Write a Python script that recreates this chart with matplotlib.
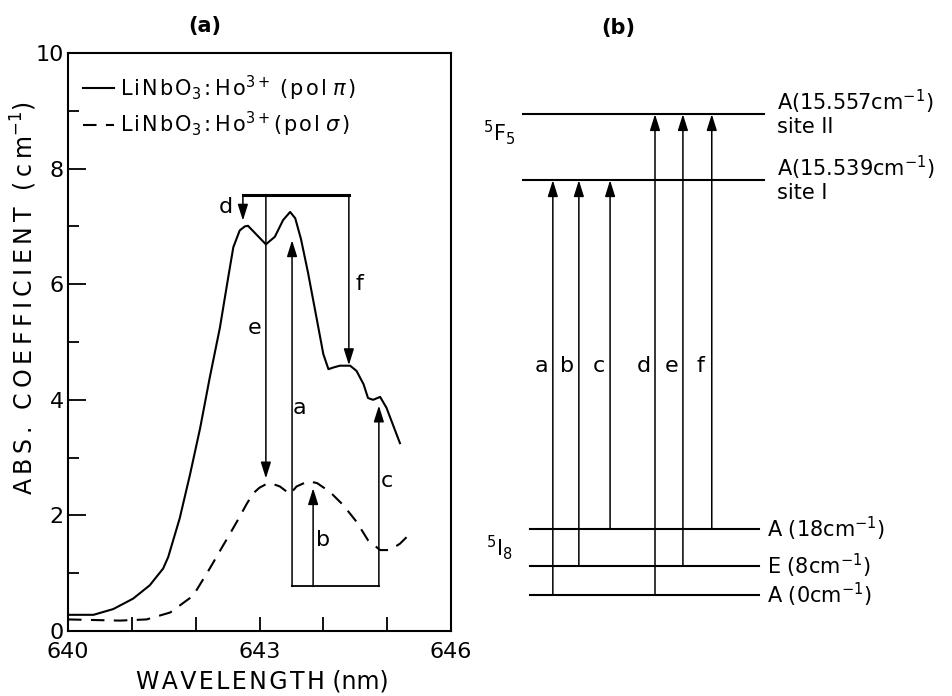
import matplotlib.pyplot as plt

# absorption of LiNbO3:Ho3+ around the 5I8 -> 5F5 band
wl_pi = [640.0, 640.4, 640.71, 641.02, 641.28, 641.49, 641.57, 641.75, 641.91,
         642.07, 642.22, 642.38, 642.51, 642.59, 642.69, 642.77, 642.82, 642.96,
         643.10, 643.24, 643.37, 643.48, 643.56, 643.65, 643.76, 643.90, 644.0,
         644.08, 644.16, 644.26, 644.42, 644.52, 644.63, 644.70, 644.78, 644.89,
         644.99, 645.20]
abs_pi = [0.28, 0.28, 0.38, 0.56, 0.79, 1.08, 1.28, 1.95, 2.70,
          3.51, 4.38, 5.25, 6.12, 6.64, 6.93, 7.0, 7.01, 6.85,
          6.69, 6.82, 7.11, 7.25, 7.14, 6.78, 6.2, 5.38, 4.79,
          4.53, 4.56, 4.59, 4.59, 4.50, 4.27, 4.03, 4.0, 4.05,
          3.86, 3.25]

wl_sig = [640.0, 640.81, 641.23, 641.6, 641.96, 642.22, 642.43, 642.51, 642.65,
          642.80, 642.90, 643.0, 643.12, 643.22, 643.32, 643.44, 643.48, 643.58,
          643.76, 643.90, 644.1, 644.31, 644.52, 644.7, 644.89, 645.04, 645.2,
          645.31]
abs_sig = [0.2, 0.18, 0.2, 0.32, 0.61, 1.08, 1.48, 1.63, 1.9,
           2.2, 2.38, 2.48, 2.55, 2.54, 2.5, 2.4, 2.37, 2.5,
           2.59, 2.56, 2.41, 2.18, 1.89, 1.57, 1.40, 1.40, 1.51,
           1.63]

# transitions marked on the spectrum
trans_names = ['a', 'b', 'c', 'd', 'e', 'f']
trans_wl = [643.51, 643.84, 644.87, 642.74, 643.10, 644.40]
trans_tip = [6.76, 2.47, 3.9, 7.1, 2.64, 4.6]
site1_base = 0.77     # bracket joining a, b, c
site2_base = 7.55     # bracket joining d, e, f

# crystal-field levels (cm-1)
ground_E = [0, 8, 18]
ground_sym = ['A', 'E', 'A']
excited_E = [15539, 15557]
excited_site = ['I', 'II']
# (ground index, excited index) for a..f
trans_pairs = [(0, 0), (1, 0), (2, 0), (0, 1), (1, 1), (2, 1)]

plt.rcParams['font.family'] = 'DejaVu Sans'
plt.rcParams['mathtext.fontset'] = 'dejavusans'

THIN = '\u2009'
HAIR = '\u200a'


def spaced(s, gap=THIN):
    return gap.join(s)


fig = plt.figure(figsize=(9.53, 6.96), dpi=100)

# ---------- (a) spectra ----------
ax = fig.add_axes([68 / 953, 65 / 696, 383 / 953, 578 / 696])
lab_pi = (spaced('LiNbO', HAIR) + r'$_3$' + HAIR + ':' + THIN + spaced('Ho', HAIR)
          + r'$^{3+}$' + ' ' + spaced('(pol', HAIR) + ' ' + r'$\pi$' + HAIR + ')')
lab_sig = (spaced('LiNbO', HAIR) + r'$_3$' + HAIR + ':' + THIN + spaced('Ho', HAIR)
           + r'$^{3+}$' + spaced('(pol', HAIR) + ' ' + r'$\sigma$' + HAIR + ')')
ax.plot(wl_pi, abs_pi, color='k', lw=1.5, label=lab_pi)
ax.plot(wl_sig, abs_sig, color='k', lw=1.5, linestyle=(0, (6.5, 4.5)),
        label=lab_sig)

arrow = dict(arrowstyle='-|>,head_length=0.7,head_width=0.22', color='k',
             lw=1.1, mutation_scale=14, shrinkA=0, shrinkB=0)
for i, name in enumerate(trans_names):
    x = trans_wl[i]
    base = site1_base if i < 3 else site2_base
    ax.annotate('', xy=(x, trans_tip[i]), xytext=(x, base), arrowprops=arrow)

ax.plot([trans_wl[0], trans_wl[2]], [site1_base, site1_base], color='k', lw=1.3)
ax.plot([trans_wl[3], trans_wl[5]], [site2_base, site2_base], color='k', lw=2.2)

lab_pos = {'a': (643.63, 3.86), 'b': (644.0, 1.57), 'c': (645.0, 2.6),
           'd': (642.48, 7.33), 'e': (642.93, 5.25), 'f': (644.56, 6.0)}
for name, (lx, ly) in lab_pos.items():
    ax.text(lx, ly, name, fontsize=16, ha='center', va='center')

ax.set_xlim(640, 646)
ax.set_ylim(0, 10)
ax.set_xticks(range(640, 647))
ax.set_xticklabels(['640', '', '', '643', '', '', '646'])
ax.set_yticks([0, 2, 4, 6, 8, 10])
ax.set_yticks([1, 3, 5, 7, 9], minor=True)
ax.tick_params(axis='both', which='major', direction='in', labelsize=16,
               width=1.3, top=False, right=False)
ax.tick_params(axis='x', which='major', length=10, pad=8)
ax.tick_params(axis='y', which='major', length=13, pad=3)
ax.tick_params(axis='y', which='minor', direction='in', length=8, width=1.3)
for s in ax.spines.values():
    s.set_linewidth(1.5)

ax.legend(loc='upper left', bbox_to_anchor=(0.0, 0.99), frameon=False,
          fontsize=15, handlelength=1.5, handletextpad=0.3, labelspacing=0.35,
          borderaxespad=0.3)

ylab = spaced('ABS. COEFFICIENT (cm') + r'$^{-1}$)'
fig.text(24 / 953, 1 - 298 / 696, ylab, rotation=90, fontsize=17,
         ha='center', va='center')
xlab = spaced('WAVELENGTH', HAIR) + ' (nm)'
fig.text(262 / 953, 1 - 682 / 696, xlab, fontsize=17, ha='center', va='center')
fig.text(205 / 953, 1 - 26 / 696, '(a)', fontsize=15, fontweight='bold',
         ha='center', va='center')

# ---------- (b) level scheme ----------
axb = fig.add_axes([480 / 953, 0, 473 / 953, 1])
axb.set_xlim(0, 1)
axb.set_ylim(-27.5, 162.1)
axb.axis('off')


def level_y(e):
    # 5F5 levels are drawn with the big gap removed
    return e if e < 1000 else e - excited_E[0] + 113


for e, sym in zip(ground_E, ground_sym):
    y = level_y(e)
    axb.plot([0.105, 0.59], [y, y], color='k', lw=1.5)
    axb.text(0.607, y, '%s (%dcm$^{-1}$)' % (sym, e), fontsize=15,
             ha='left', va='center')

for e, site in zip(excited_E, excited_site):
    y = level_y(e)
    axb.plot([0.09, 0.60], [y, y], color='k', lw=1.5)
    axb.text(0.628, y + 3.3, 'A(%.3fcm$^{-1}$)' % (e / 1000), fontsize=15,
             ha='left', va='center')
    axb.text(0.628, y - 3.6, 'site ' + site, fontsize=15,
             ha='left', va='center')

arrow_x = [0.154, 0.209, 0.275, 0.370, 0.429, 0.490]
for name, (g, x_), xp in zip(trans_names, trans_pairs, arrow_x):
    y0 = level_y(ground_E[g])
    y1 = level_y(excited_E[x_])
    axb.annotate('', xy=(xp, y1), xytext=(xp, y0), arrowprops=arrow)
    axb.text(xp - 0.024, 62.5, name, fontsize=16, ha='center', va='center')

axb.text(0.04, 126, r'$^5$F$_5$', fontsize=15, ha='center', va='center')
axb.text(0.04, 13, r'$^5$I$_8$', fontsize=15, ha='center', va='center')
fig.text(618 / 953, 1 - 28 / 696, '(b)', fontsize=15, fontweight='bold',
         ha='center', va='center')

fig.savefig('out.png', dpi=100)
